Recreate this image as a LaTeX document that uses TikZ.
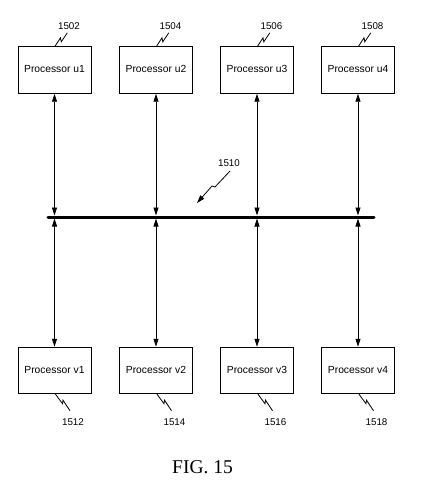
\documentclass[tikz,border=0pt]{standalone}
\usepackage{fontspec}
\setmainfont{Liberation Sans}
\newfontfamily\figfont{Liberation Serif}
\usetikzlibrary{arrows.meta}
\tikzset{
  proc/.style={draw, line width=0.9pt, minimum width=73pt, minimum height=46.5pt, inner sep=0pt, text height=7.5pt, text depth=2pt, font=\fontsize{10.3}{12}\selectfont},
  refnum/.style={font=\fontsize{9.8}{11}\selectfont, inner sep=0pt},
  link/.style={line width=0.8pt, {Triangle[length=8pt,width=5pt]}-{Triangle[length=8pt,width=5pt]}},
  squig/.style={line width=0.8pt},
  busline/.style={line width=3pt, line cap=round}
}
\begin{document}
\begin{tikzpicture}[x=1pt,y=-1pt]
\useasboundingbox (0,0) rectangle (427,501);
% top processors
\node[proc] (u1) at (54.5,70) {Processor u1};
\node[proc] (u2) at (156,70) {Processor u2};
\node[proc] (u3) at (257,70) {Processor u3};
\node[proc] (u4) at (358,70) {Processor u4};
% bottom processors
\node[proc] (v1) at (54.5,370.5) {Processor v1};
\node[proc] (v2) at (156,370.5) {Processor v2};
\node[proc] (v3) at (257,370.5) {Processor v3};
\node[proc] (v4) at (358,370.5) {Processor v4};
% bus
\coordinate (busL) at (48,217);
\coordinate (busR) at (374,217);
\draw[busline] (busL) -- (busR);
\coordinate (bus) at (0,217);
% connectors
\foreach \n in {1,2,3,4}{
  \draw[link, shorten >=1.5pt] (u\n.south) -- (u\n.south |- bus);
  \draw[link, shorten <=1.5pt] (v\n.north |- bus) -- (v\n.north);
}
% reference numbers top
\foreach \n/\lab in {1/1502,2/1504,3/1506,4/1508}{
  \node[refnum] (l\lab) at ([shift={(14.5,-68)}]u\n.south) {\lab};
  \draw[squig] ([xshift=0.5pt]u\n.north) -- ++(5.5,-8.5) -- ++(0.8,4) -- ++(6,-9);
}
% reference numbers bottom
\foreach \n/\lab in {1/1512,2/1514,3/1516,4/1518}{
  \node[refnum] (l\lab) at ([shift={(18.5,28)}]v\n.south) {\lab};
  \draw[squig] ([xshift=1pt]v\n.south) -- ++(7,9.5) -- ++(0.5,-3.5) -- ++(7,10.5);
}
% bus label
\node[refnum] (l1510) at (229,163) {1510};
\coordinate (bustip) at (197,203);
\draw[squig, -{Triangle[length=8pt,width=5pt]}] (230,171) -- (215,187) -- (212,186) -- (bustip);
% caption
\node[font=\figfont\fontsize{19.5}{22}\selectfont, anchor=base, inner sep=0pt] (cap) at (202.5,473) {FIG. 15};
\end{tikzpicture}
\end{document}
